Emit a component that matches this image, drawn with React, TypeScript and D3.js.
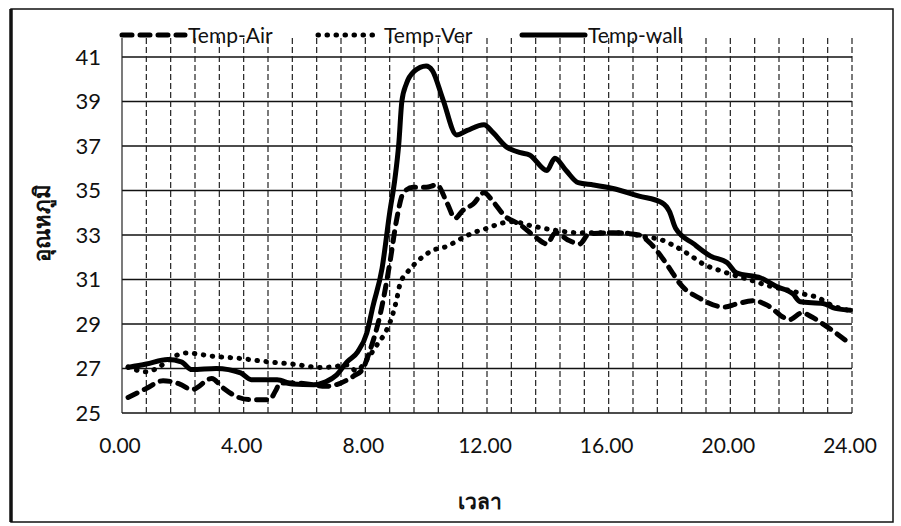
import React from "react";
import * as d3 from "d3";

const airHours = [0.2, 0.8, 1.35, 1.9, 2.3, 2.95, 3.3, 3.75, 4.2, 4.85, 5.05, 5.2, 5.75, 6.7, 7.2, 7.6, 7.9, 8.15, 8.5, 8.8, 9.03, 9.25, 9.57, 10.0, 10.35, 10.7, 10.95, 11.2, 11.55, 11.9, 12.2, 12.55, 13.1, 13.6, 13.97, 14.25, 14.7, 15.05, 15.35, 16.15, 17.0, 17.35, 17.8, 18.05, 18.35, 19.0, 19.8, 20.2, 20.8, 21.2, 21.96, 22.35, 22.7, 23.1, 23.95];
const airTemps = [25.7, 26.1, 26.45, 26.3, 26.05, 26.55, 26.15, 25.75, 25.6, 25.6, 26.0, 26.35, 26.35, 26.2, 26.35, 26.65, 26.95, 27.8, 29.5, 31.7, 33.7, 34.9, 35.15, 35.15, 35.25, 34.4, 33.75, 34.1, 34.4, 34.9, 34.5, 33.9, 33.45, 32.9, 32.6, 33.1, 32.75, 32.6, 33.05, 33.1, 33.0, 32.65, 31.9, 31.4, 30.8, 30.15, 29.76, 29.9, 30.05, 29.85, 29.2, 29.5, 29.3, 28.95, 28.1];

const verHours = [0.2, 0.8, 1.2, 1.6, 2.1, 3.0, 3.9, 4.8, 5.6, 6.5, 6.9, 7.4, 7.7, 8.05, 8.4, 8.65, 8.87, 9.03, 9.14, 9.37, 9.7, 10.2, 10.7, 11.1, 11.55, 12.0, 12.4, 12.85, 13.5, 14.3, 15.0, 15.5, 16.4, 17.25, 17.7, 18.1, 18.67, 19.1, 19.66, 20.1, 20.6, 21.3, 21.96, 22.4, 22.85, 23.4, 23.95];
const verTemps = [27.07, 26.85, 27.05, 27.45, 27.7, 27.55, 27.45, 27.3, 27.2, 27.05, 27.07, 27.16, 26.9, 27.4, 28.1, 28.6, 29.3, 30.1, 30.8, 31.3, 31.8, 32.3, 32.5, 32.8, 33.1, 33.3, 33.5, 33.6, 33.4, 33.2, 33.1, 33.1, 33.1, 32.9, 32.8, 32.55, 32.1, 31.7, 31.4, 31.2, 31.0, 30.7, 30.5, 30.35, 30.2, 29.8, 29.6];

const wallHours = [0.2, 0.8, 1.5, 1.95, 2.3, 3.1, 3.9, 4.25, 5.1, 5.6, 6.3, 6.7, 7.05, 7.4, 7.75, 8.05, 8.25, 8.55, 8.8, 8.97, 9.1, 9.2, 9.35, 9.6, 10.0, 10.2, 10.55, 11.0, 11.35, 11.9, 12.2, 12.65, 13.1, 13.4, 13.97, 14.23, 14.6, 15.0, 15.5, 16.1, 17.0, 17.75, 18.0, 18.2, 18.8, 19.35, 19.9, 20.2, 21.0, 21.5, 22.06, 22.3, 23.05, 23.45, 23.95];
const wallTemps = [27.05, 27.2, 27.4, 27.3, 26.95, 27.0, 26.8, 26.5, 26.5, 26.3, 26.27, 26.4, 26.7, 27.3, 27.75, 28.6, 29.8, 31.5, 34.0, 35.5, 37.1, 39.0, 39.8, 40.35, 40.6, 40.4, 39.1, 37.5, 37.7, 37.95, 37.6, 36.95, 36.7, 36.6, 35.9, 36.45, 35.9, 35.35, 35.25, 35.1, 34.75, 34.45, 34.05, 33.3, 32.6, 32.05, 31.75, 31.3, 31.07, 30.7, 30.35, 30.0, 29.92, 29.7, 29.62];

const xTickValues = [0, 4, 8, 12, 16, 20, 24];
const xTickLabels = ["0.00", "4.00", "8.00", "12.00", "16.00", "20.00", "24.00"];
const yTickValues = [25, 27, 29, 31, 33, 35, 37, 39, 41];
const seriesNames = ["Temp-Air", "Temp-Ver", "Temp-wall"];
const xTitle = "เวลา";
const yTitle = "อุณหภูมิ";

const FONT = "Lato, 'Open Sans', sans-serif";

export default function App() {
  const left = 122, right = 852, top = 57, bottom = 413;
  const x = d3.scaleLinear().domain([0, 24]).range([left, right]);
  const y = d3.scaleLinear().domain([25, 41]).range([bottom, top]);
  const mk = (hs: number[], vs: number[]) =>
    d3.line<number>().x((_, i) => x(hs[i])).y((v) => y(v)).curve(d3.curveMonotoneX)(vs) || "";

  const gridX = d3.range(0, 31).map((i) => i * 0.8);

  const styles = [
    { dash: "10 8", width: 5, cap: "round" as const },
    { dash: "0.5 8.5", width: 5, cap: "round" as const },
    { dash: "", width: 5, cap: "round" as const },
  ];
  const legendX = [122, 318, 522];
  const legendW = 63;
  const legendY = 35;

  return (
    <svg width={901} height={526} style={{ position: "absolute", left: 0, top: 0, background: "#fff" }}>
      <rect x={0} y={0} width={901} height={526} fill="#fff" />
      {/* frame */}
      <rect x={11} y={9} width={882} height={513} fill="none" stroke="#111" strokeWidth={1.5} />
      <line x1={11} y1={9} x2={11} y2={522} stroke="#111" strokeWidth={3.5} />
      {/* horizontal grid */}
      {yTickValues.map((v) => (
        <line key={"h" + v} x1={left} x2={right} y1={y(v)} y2={y(v)} stroke="#111" strokeWidth={1.5} />
      ))}
      {/* vertical grid */}
      {gridX.map((h, i) => (
        <line key={"v" + i} x1={x(h)} x2={x(h)} y1={38} y2={bottom} stroke="#222" strokeWidth={1.2}
          strokeDasharray={i === 0 ? "" : "6 3"} />
      ))}
      {/* y labels */}
      {yTickValues.map((v) => (
        <text key={"yl" + v} x={101} y={y(v)} dy="0.36em" textAnchor="end" fontFamily={FONT} fontSize={22} fill="#111">
          {v}
        </text>
      ))}
      {/* x labels */}
      {xTickValues.map((h, i) => (
        <text key={"xl" + h} x={x(h) - 2} y={453} textAnchor="middle" fontFamily={FONT} fontSize={21} fill="#111">
          {xTickLabels[i]}
        </text>
      ))}
      {/* axis titles */}
      <text x={480} y={509} textAnchor="middle" fontFamily={FONT} fontSize={21} fontWeight="bold" fill="#111">
        {xTitle}
      </text>
      <text transform="translate(50,223) rotate(-90)" textAnchor="middle" fontFamily={FONT} fontSize={22} fontWeight="bold" fill="#111">
        {yTitle}
      </text>
      {/* series */}
      {[
        [airHours, airTemps],
        [verHours, verTemps],
        [wallHours, wallTemps],
      ].map(([hs, vs], i) => (
        <path key={"s" + i} d={mk(hs, vs)} fill="none" stroke="#000" strokeWidth={styles[i].width}
          strokeDasharray={styles[i].dash || undefined} strokeLinecap={styles[i].cap} strokeLinejoin="round" />
      ))}
      {/* legend */}
      {seriesNames.map((n, i) => (
        <g key={"lg" + i}>
          <line x1={legendX[i]} x2={legendX[i] + legendW} y1={legendY} y2={legendY} stroke="#000"
            strokeWidth={styles[i].width} strokeDasharray={styles[i].dash || undefined} strokeLinecap="round" />
          <text x={legendX[i] + legendW + 3} y={legendY} dy="0.36em" fontFamily={FONT} fontSize={21} fill="#111">
            {n}
          </text>
        </g>
      ))}
    </svg>
  );
}
